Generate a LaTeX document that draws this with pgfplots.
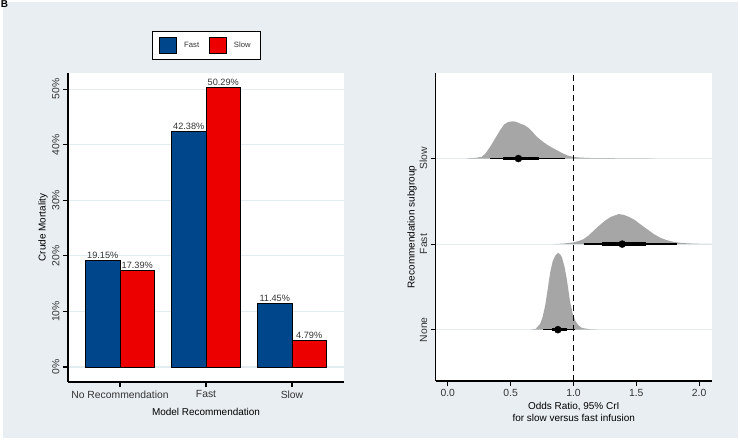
\documentclass[border=0pt]{standalone}
\usepackage{pgfplots}
\pgfplotsset{compat=1.18}
\usepackage{fontspec}
\setmainfont{Liberation Sans}
\definecolor{bgc}{HTML}{E9EEF2}
\definecolor{gridc}{HTML}{E3ECEE}
\definecolor{fastc}{HTML}{00468B}
\definecolor{slowc}{HTML}{ED0000}
\definecolor{densc}{HTML}{A6A6A6}
\definecolor{txtc}{HTML}{333333}

\pgfplotsset{
  panel/.style={
    scale only axis, anchor=south west,
    axis x line*=bottom, axis y line*=left,
    axis background/.style={fill=white},
    axis line style={line width=1.3bp, black},
    tick align=outside, major tick length=5bp,
    every tick/.style={black, line width=1.1bp},
    tick label style={font=\fontsize{10.4}{12}\selectfont, text=txtc},
    label style={font=\fontsize{10.4}{11.6}\selectfont, text=txtc},
    ymajorgrids,
    major grid style={gridc, line width=1.2bp},
  },
  sq/.style={legend image code/.code={\draw[##1,draw=black,line width=0.8bp] (0bp,-8bp) rectangle (17bp,8bp);}},
}

\begin{document}
\begin{tikzpicture}
\useasboundingbox (0,0) rectangle (740bp,441bp);
\fill[white] (0,0) rectangle (740bp,441bp);
\fill[bgc] (2.7bp,2.7bp) rectangle (738.3bp,438.7bp);
\node[font=\bfseries\fontsize{10}{10}\selectfont, inner sep=0pt] at (4.5bp,437bp) {B};

% left panel: crude mortality
\begin{axis}[panel, at={(68bp,59bp)}, width=276bp, height=309bp,
  ybar=0pt, bar width=34.5bp,
  xmin=-0.605, xmax=2.605, ymin=-2.7, ymax=52.9,
  xtick={0,1,2}, xticklabels={No Recommendation,Fast,Slow},
  ytick={0,10,20,30,40,50}, yticklabels={0\%,10\%,20\%,30\%,40\%,50\%},
  yticklabel style={rotate=90, anchor=south},
  xlabel={Model Recommendation}, ylabel={Crude Mortality},
  every axis y label/.style={at={(axis description cs:-0.0906,0.5)},rotate=90,anchor=center},
  every axis x label/.style={at={(axis description cs:0.5,-0.0961)},anchor=center},
  nodes near coords={\pgfmathprintnumber[fixed,fixed zerofill,precision=2,assume math mode=true]{\pgfplotspointmeta}\%},
  every node near coord/.append style={font=\fontsize{9.2}{10}\selectfont, text=txtc, inner sep=1.2bp},
  legend columns=2,
  legend style={at={(0.5,1.089)}, anchor=center, draw=black, line width=0.8bp, fill=white,
    font=\fontsize{7.7}{9}\selectfont, text=txtc, inner xsep=7.5bp, inner ysep=6bp,
    /tikz/every odd column/.append style={column sep=5bp},
    /tikz/every even column/.append style={column sep=8bp}},
]
\addplot[fill=fastc, draw=black, line width=0.9bp, sq] coordinates {(0,19.15) (1,42.38) (2,11.45)};
\addlegendentry{Fast}
\addplot[fill=slowc, draw=black, line width=0.9bp, sq] coordinates {(0,17.39) (1,50.29) (2,4.79)};
\addlegendentry{Slow}
\end{axis}

% right panel: posterior odds ratios
\begin{axis}[panel, at={(435.7bp,60bp)}, width=276bp, height=308bp,
  xmin=-0.096, xmax=2.1, ymin=0.4, ymax=4,
  xtick={0,0.5,1,1.5,2}, xticklabels={0.0,0.5,1.0,1.5,2.0},
  ytick={1,2,3}, yticklabels={None,Fast,Slow},
  yticklabel style={rotate=90, anchor=south},
  xlabel={Odds Ratio, 95\% CrI\\for slow versus fast infusion},
  ylabel={Recommendation subgroup},
  every axis y label/.style={at={(axis description cs:-0.0859,0.5)},rotate=90,anchor=center},
  every axis x label/.style={at={(axis description cs:0.5,-0.099)},anchor=center,align=center},
]
% densities
\addplot[fill=densc, draw=none] coordinates {
 (0.15,3) (0.178,3.004) (0.22,3.008) (0.27,3.02) (0.30,3.06) (0.337,3.137) (0.375,3.23)
 (0.416,3.331) (0.45,3.40) (0.483,3.429) (0.523,3.436) (0.55,3.425) (0.576,3.409) (0.61,3.39)
 (0.642,3.359) (0.675,3.31) (0.709,3.254) (0.75,3.205) (0.788,3.164) (0.83,3.128) (0.868,3.097)
 (0.91,3.065) (0.947,3.039) (0.99,3.022) (1.027,3.014) (1.1,3.008) (1.16,3.005) (1.4,3.003) (1.66,3)
} -- cycle;
\addplot[fill=densc, draw=none] coordinates {
 (0.84,2) (0.92,2.006) (1.0,2.02) (1.04,2.035) (1.08,2.058) (1.12,2.10) (1.16,2.156) (1.2,2.21)
 (1.25,2.273) (1.3,2.32) (1.36,2.351) (1.40,2.342) (1.44,2.319) (1.49,2.28) (1.53,2.234) (1.59,2.17)
 (1.64,2.117) (1.69,2.075) (1.74,2.047) (1.8,2.025) (1.85,2.015) (1.92,2.008) (2.0,2.004) (2.1,2.002) (2.1,2)
} -- cycle;
\addplot[fill=densc, draw=none] coordinates {
 (0.66,1) (0.70,1.01) (0.735,1.067) (0.755,1.15) (0.775,1.281) (0.795,1.47) (0.815,1.670) (0.835,1.80)
 (0.855,1.865) (0.876,1.897) (0.892,1.885) (0.908,1.846) (0.928,1.74) (0.947,1.593) (0.96,1.46)
 (0.974,1.319) (0.994,1.19) (1.014,1.105) (1.04,1.05) (1.067,1.02) (1.13,1.005) (1.2,1)
} -- cycle;
% 95% intervals
\addplot[black, line width=1.5bp] coordinates {(0.337,3) (0.934,3)};
\addplot[black, line width=1.5bp] coordinates {(1.08,2) (1.823,2)};
\addplot[black, line width=1.5bp] coordinates {(0.761,1) (1.014,1)};
% inner intervals
\addplot[black, line width=3.5bp] coordinates {(0.443,3) (0.722,3)};
\addplot[black, line width=3.5bp] coordinates {(1.231,2) (1.579,2)};
\addplot[black, line width=3.5bp] coordinates {(0.828,1) (0.947,1)};
% medians
\addplot[only marks, mark=*, mark size=3.5bp, black] coordinates {(0.562,3) (1.388,2) (0.876,1)};
% reference line
\addplot[black, line width=1.4bp, dash pattern=on 6bp off 4bp] coordinates {(1,0.4) (1,4)};
\end{axis}
\end{tikzpicture}
\end{document}
